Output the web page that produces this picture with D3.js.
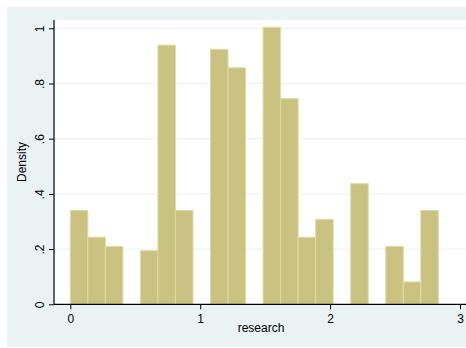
<!DOCTYPE html>
<html><head><meta charset="utf-8">
<script src="https://cdn.jsdelivr.net/npm/d3@7"></script>
<style>html,body{margin:0;padding:0;background:#fff;}svg{display:block;}</style>
</head><body>
<script>
// Histogram of "research": 21 bins of width (2.8333/21) starting at 0
const binStart = 0;
const binWidth = 2.8333 / 21;
const densities = [0.340, 0.243, 0.210, 0, 0.194, 0.939, 0.340, 0, 0.924, 0.857, 0,
                   1.004, 0.745, 0.243, 0.308, 0, 0.437, 0, 0.210, 0.081, 0.340];
const xTicks = [0, 1, 2, 3];
const yTicks = [0, 0.2, 0.4, 0.6, 0.8, 1];
const yTickLabels = ["0", ".2", ".4", ".6", ".8", "1"];
const xTitle = "research";
const yTitle = "Density";

(function () {
const W = 466, H = 348;
const svg = d3.select("body").append("svg").attr("width", W).attr("height", H);
svg.append("rect").attr("x", 0).attr("y", 0).attr("width", W).attr("height", H).attr("fill", "#ffffff");
svg.append("rect").attr("x", 7).attr("y", 7).attr("width", W - 7).attr("height", 340).attr("fill", "#eaf2f3");

const pl = 54, pt = 20, pb = 304.3, pr = 470;
svg.append("rect").attr("x", pl).attr("y", pt).attr("width", pr - pl).attr("height", pb - pt).attr("fill", "#ffffff");

const x = d3.scaleLinear().domain([0, 3]).range([70.3, 460]);
const y = d3.scaleLinear().domain([0, 1]).range([pb, 28.3]);

// gridlines
svg.append("g").selectAll("line").data(yTicks.filter(d => d > 0)).join("line")
  .attr("x1", pl).attr("x2", pr)
  .attr("y1", d => y(d)).attr("y2", d => y(d))
  .attr("stroke", "#eaf2f3").attr("stroke-width", 1);

// bars
const bars = densities.map((v, i) => ({x0: binStart + i * binWidth, x1: binStart + (i + 1) * binWidth, v}))
  .filter(d => d.v > 0);
svg.append("g").selectAll("rect").data(bars).join("rect")
  .attr("x", d => x(d.x0)).attr("width", d => x(d.x1) - x(d.x0))
  .attr("y", d => y(d.v)).attr("height", d => y(0) - y(d.v))
  .attr("fill", "#c9c280").attr("stroke", "#e0dba6").attr("stroke-width", 1);

// axes
const font = "'Liberation Sans', Arial, Helvetica, sans-serif";
const yAxis = d3.axisLeft(y).tickValues(yTicks).tickSize(5).tickPadding(0)
  .tickFormat((d, i) => yTickLabels[i]);
const gy = svg.append("g").attr("transform", `translate(${pl},0)`).call(yAxis);
gy.select(".domain").attr("d", `M0,${pt}V${pb}`).attr("stroke", "#000").attr("stroke-width", 1.2);
gy.selectAll(".tick line").attr("stroke", "#000");
gy.selectAll(".tick text").attr("transform", "rotate(-90)").attr("x", 0).attr("y", -10)
  .attr("text-anchor", "middle").attr("dy", 0)
  .style("font-family", font).style("font-size", "12px").attr("fill", "#000");

const xAxis = d3.axisBottom(x).tickValues(xTicks).tickSize(5).tickPadding(5).tickFormat(d3.format("d"));
const gx = svg.append("g").attr("transform", `translate(0,${pb})`).call(xAxis);
gx.select(".domain").attr("d", `M${pl},0H${pr}`).attr("stroke", "#000").attr("stroke-width", 1.2);
gx.selectAll(".tick line").attr("stroke", "#000");
gx.selectAll(".tick text").style("font-family", font).style("font-size", "12px").attr("fill", "#000");

svg.append("text").attr("x", 261).attr("y", 332).attr("text-anchor", "middle")
  .style("font-family", font).style("font-size", "12px").text(xTitle);
svg.append("text").attr("transform", `translate(26,162) rotate(-90)`).attr("text-anchor", "middle")
  .style("font-family", font).style("font-size", "12px").text(yTitle);
})();
</script>
</body></html>
